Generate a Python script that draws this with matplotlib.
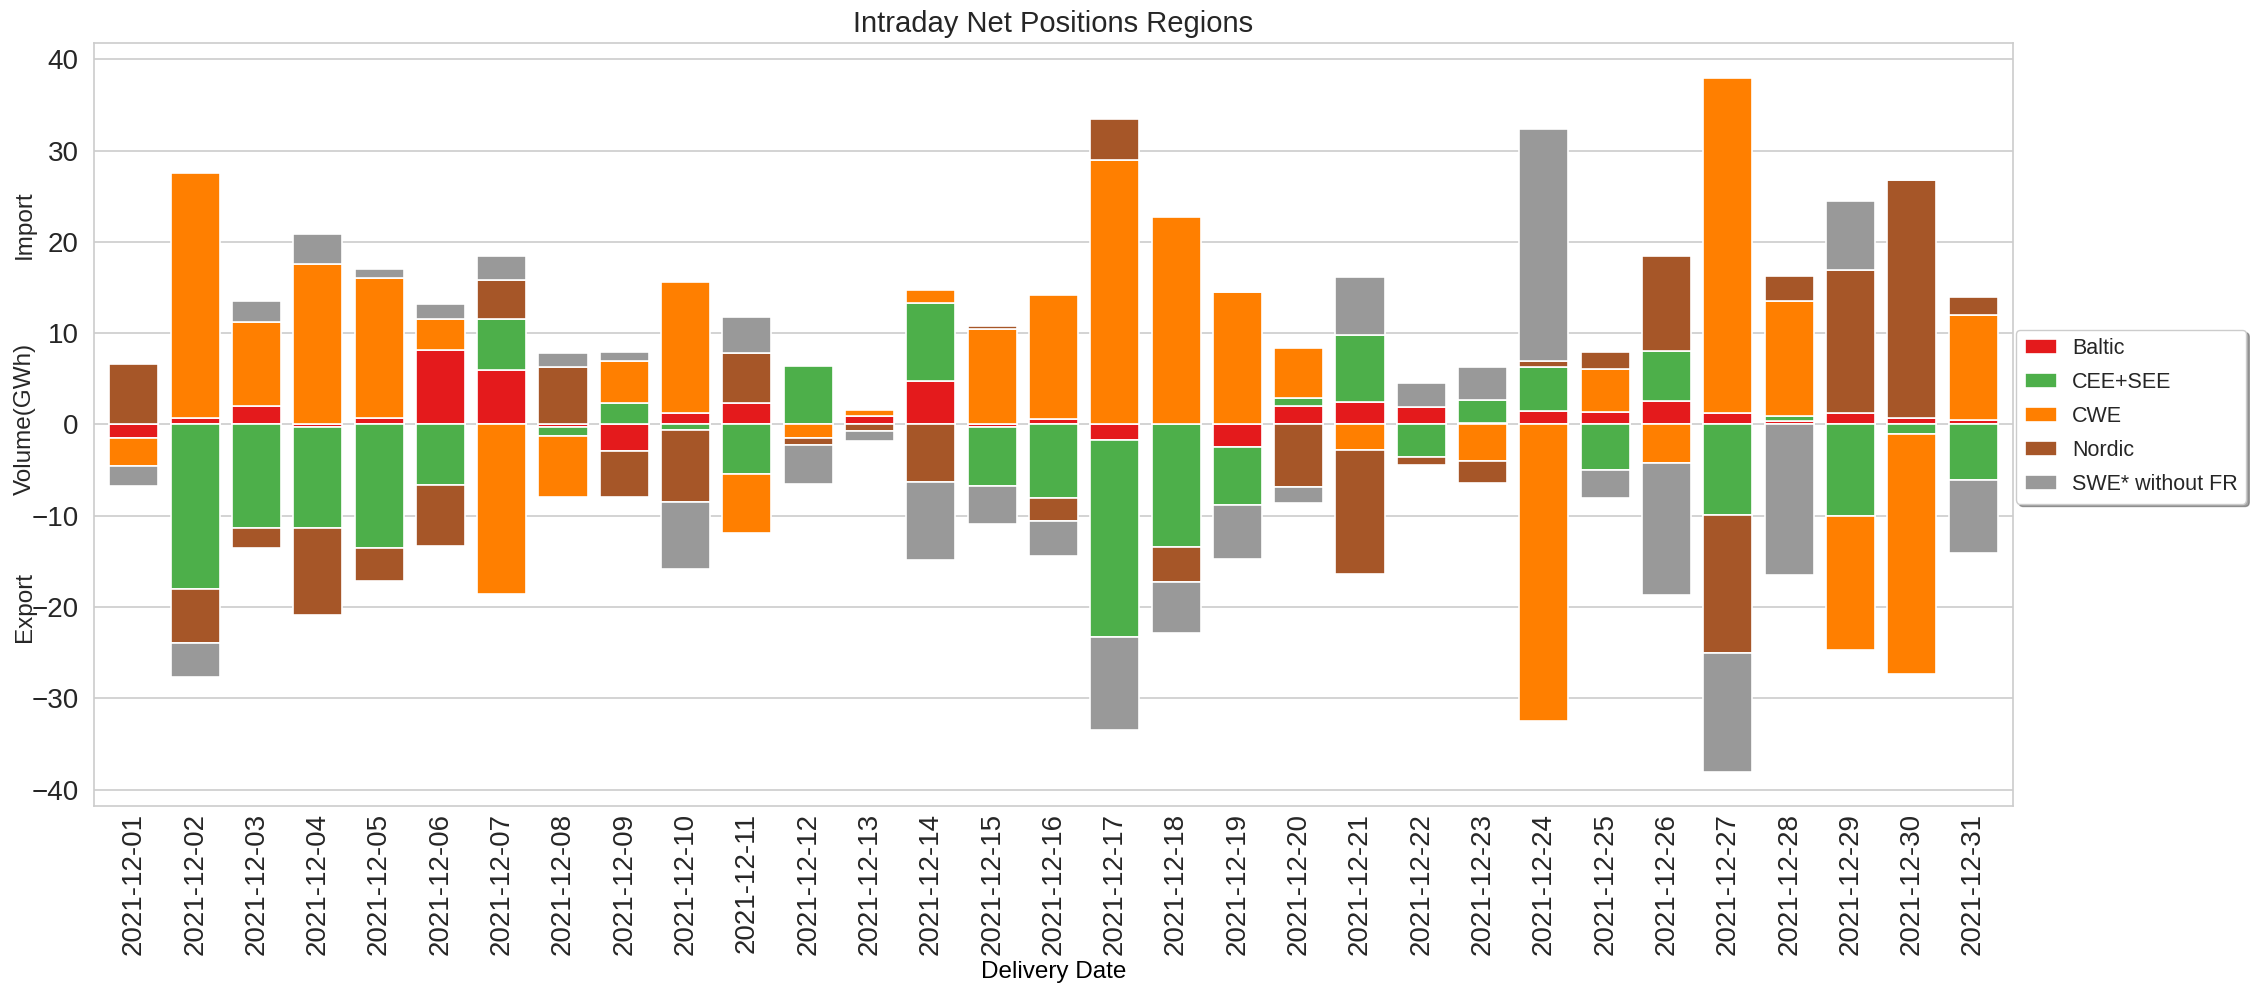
import numpy as np
import matplotlib
matplotlib.use("Agg")
import matplotlib.pyplot as plt

# days of December 2021
dates = ["2021-12-%02d" % d for d in range(1, 32)]
regions = ["Baltic", "CEE+SEE", "CWE", "Nordic", "SWE* without FR"]
colors = ["#e41a1c", "#4daf4a", "#ff7f00", "#a65628", "#999999"]

# net positions in GWh
baltic = [-1.5, 0.7, 2.0, -0.3, 0.7, 8.1, 6.0, -0.3, -2.9, 1.3, 2.4, 0.0, 0.9, 4.8, -0.3, 0.6,
          -1.7, 0.0, -2.5, 2.0, 2.5, 1.9, 0.2, 1.5, 1.4, 2.6, 1.2, 0.4, 1.3, 0.7, 0.5]
cee_see = [0.0, -18.0, -11.4, -11.1, -13.5, -6.6, 5.5, -1.0, 2.3, -0.6, -5.4, 6.4, 0.0, 8.5, -6.5, -8.1,
           -21.6, -13.4, -6.3, 0.9, 7.3, -3.6, 2.5, 4.8, -5.0, 5.4, -9.9, 0.5, -10.0, -1.1, -6.1]
cwe = [-3.1, 26.8, 9.2, 17.6, 15.3, 3.4, -18.6, -6.7, 4.6, 14.3, -6.5, -1.5, 0.7, 1.4, 10.4, 13.6,
       29.0, 22.7, 14.5, 5.5, -2.8, 0.0, -4.0, -32.5, 4.7, -4.2, 36.8, 12.6, -14.7, -26.2, 11.5]
nordic = [6.6, -5.9, -2.1, -9.5, -3.6, -6.7, 4.3, 6.3, -5.1, -7.9, 5.4, -0.7, -0.7, -6.3, 0.4, -2.5,
          4.5, -3.9, 0.0, -6.9, -13.6, -0.9, -2.4, 0.7, 1.8, 10.5, -15.1, 2.8, 15.6, 26.1, 2.0]
swe = [-2.1, -3.8, 2.3, 3.3, 1.0, 1.7, 2.7, 1.5, 1.0, -7.3, 4.0, -4.3, -1.1, -8.6, -4.1, -3.8,
       -10.2, -5.6, -5.9, -1.7, 6.4, 2.6, 3.6, 25.4, -3.1, -14.5, -13.1, -16.5, 7.6, 0.0, -8.0]

series = [baltic, cee_see, cwe, nordic, swe]

plt.rcParams["font.family"] = ["Liberation Sans", "DejaVu Sans"]
plt.rcParams["text.color"] = "#262626"

fig = plt.figure(figsize=(22.65, 9.97), dpi=100)
ax = fig.add_axes([0.0415, 0.1916, 0.8472, 0.7654])

x = np.arange(len(dates))
pos_bottom = np.zeros(len(dates))
neg_bottom = np.zeros(len(dates))
for name, vals, c in zip(regions, series, colors):
    v = np.array(vals)
    bottom = np.where(v >= 0, pos_bottom, neg_bottom)
    ax.bar(x, v, 0.8, bottom=bottom, color=c, edgecolor="white", linewidth=1.2,
           label=name, zorder=3)
    pos_bottom += np.where(v >= 0, v, 0)
    neg_bottom += np.where(v < 0, v, 0)

ax.set_xlim(-0.65, len(dates) - 0.35)
ax.set_ylim(-41.8, 41.8)
ax.set_yticks(np.arange(-40, 41, 10))
ax.set_xticks(x)
ax.set_xticklabels(dates, rotation=90, fontsize=20, color="#262626")
ax.tick_params(axis="y", labelsize=20, labelcolor="#262626", length=0, pad=11)
ax.tick_params(axis="x", length=0, pad=5)
ax.grid(axis="y", color="#cccccc", linewidth=1.2, zorder=0)
for s in ax.spines.values():
    s.set_color("#cccccc")
    s.set_linewidth(1.2)

ax.set_title("Intraday Net Positions Regions", fontsize=21, pad=8)
ax.set_xlabel("Delivery Date", fontsize=17.5, labelpad=4)

fig.text(0.011, 0.775, "Import", rotation=90, fontsize=17.5, ha="center", va="center")
fig.text(0.011, 0.580, "Volume(GWh)", rotation=90, fontsize=17.5, ha="center", va="center")
fig.text(0.011, 0.391, "Export", rotation=90, fontsize=17.5, ha="center", va="center")

leg = ax.legend(loc="center left", bbox_to_anchor=(1.0, 0.51), frameon=True, shadow=True,
                fontsize=15.5, handlelength=1.5, handletextpad=0.7, labelspacing=0.6,
                borderpad=0.4, borderaxespad=0.15, edgecolor="#cccccc")

fig.savefig("out.png", dpi=100, facecolor="white")
